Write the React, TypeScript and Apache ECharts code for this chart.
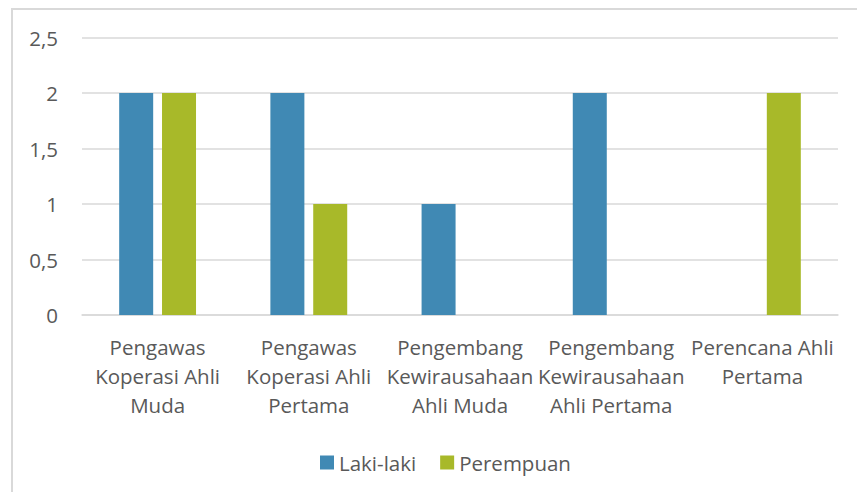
import React, { useEffect, useRef } from "react";
import * as echarts from "echarts";

const categories = [
  "Pengawas\nKoperasi Ahli\nMuda",
  "Pengawas\nKoperasi Ahli\nPertama",
  "Pengembang\nKewirausahaan\nAhli Muda",
  "Pengembang\nKewirausahaan\nAhli Pertama",
  "Perencana Ahli\nPertama",
];
const lakiLaki = [2, 2, 1, 2, null];
const perempuan = [2, 1, null, null, 2];
const yTicks = { min: 0, max: 2.5, interval: 0.5 };

const FONT = "'Open Sans', sans-serif";
const TEXT = "#595959";

export default function App() {
  const ref = useRef<HTMLDivElement>(null);
  useEffect(() => {
    if (!ref.current) return;
    const chart = echarts.init(ref.current, undefined, { renderer: "svg" });
    chart.setOption({
      animation: false,
      backgroundColor: "#ffffff",
      textStyle: { fontFamily: FONT },
      graphic: [
        {
          type: "rect",
          shape: { x: 12, y: 9, width: 900, height: 600 },
          style: { fill: "none", stroke: "#d9d9d9", lineWidth: 2 },
          silent: true,
        },
      ],
      grid: { left: 82, right: 19, top: 37.5, bottom: 177, containLabel: false },
      legend: {
        left: 315,
        top: 447,
        itemWidth: 14,
        itemHeight: 14,
        itemGap: 24,
        icon: "rect",
        textStyle: { color: TEXT, fontSize: 20.5, fontFamily: FONT },
        data: ["Laki-laki", "Perempuan"],
      },
      xAxis: {
        type: "category",
        data: categories,
        axisTick: { show: false },
        axisLine: { lineStyle: { color: "#d9d9d9", width: 1.5 } },
        axisLabel: {
          interval: 0,
          color: TEXT,
          fontSize: 20.5,
          lineHeight: 29,
          margin: 17,
          fontFamily: FONT,
        },
      },
      yAxis: {
        type: "value",
        min: yTicks.min,
        max: yTicks.max,
        interval: yTicks.interval,
        axisLine: { show: false },
        axisTick: { show: false },
        splitLine: { lineStyle: { color: "#d9d9d9", width: 1.5 } },
        axisLabel: {
          color: TEXT,
          fontSize: 20.5,
          margin: 24,
          fontFamily: FONT,
          formatter: (v: number) => String(v).replace(".", ","),
        },
      },
      series: [
        {
          name: "Laki-laki",
          type: "bar",
          data: lakiLaki,
          barWidth: 34,
          barGap: "26%",
          itemStyle: { color: "#4089b4" },
        },
        {
          name: "Perempuan",
          type: "bar",
          data: perempuan,
          barWidth: 34,
          barGap: "26%",
          itemStyle: { color: "#a8b929" },
        },
      ],
    });
    return () => chart.dispose();
  }, []);
  return (
    <div
      ref={ref}
      style={{ position: "absolute", left: 0, top: 0, width: 857, height: 492 }}
    />
  );
}
